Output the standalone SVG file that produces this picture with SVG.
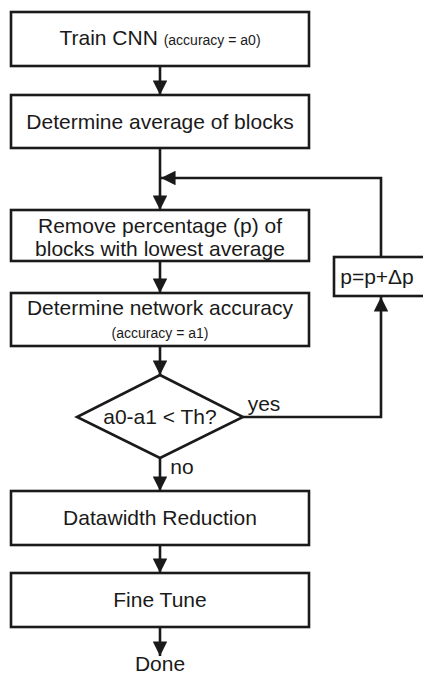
<svg xmlns="http://www.w3.org/2000/svg" width="423" height="676" viewBox="0 0 423 676">
  <style>
    .box { fill: #fff; stroke: #1a1a1a; stroke-width: 2.6; }
    .edge { fill: none; stroke: #1a1a1a; stroke-width: 2.6; }
    .t { font-family: "Liberation Sans", Arial, sans-serif; fill: #1a1a1a; text-anchor: middle; }
    .lg { font-size: 21px; }
    .sm { font-size: 14px; }
  </style>
  <defs>
    <marker id="arrowL" viewBox="0 0 10 10" refX="10" refY="5" markerWidth="5.6" markerHeight="5.6" orient="auto">
      <path d="M0,0 L10,5 L0,10 Z" fill="#1a1a1a"/>
    </marker>
  </defs>

  <!-- connectors -->
  <g id="connectors">
    <path class="edge" d="M160,66 V95" marker-end="url(#arrowL)"/>
    <path class="edge" d="M160,148 V210" marker-end="url(#arrowL)"/>
    <path class="edge" d="M381,257 V178 H161" marker-end="url(#arrowL)"/>
    <path class="edge" d="M160,261 V293" marker-end="url(#arrowL)"/>
    <path class="edge" d="M160,346 V375" marker-end="url(#arrowL)"/>
    <path class="edge" d="M243,417 H381 V297" marker-end="url(#arrowL)"/>
    <path class="edge" d="M160,458 V491" marker-end="url(#arrowL)"/>
    <path class="edge" d="M160,545 V573" marker-end="url(#arrowL)"/>
    <path class="edge" d="M160,627 V656" marker-end="url(#arrowL)"/>
    <text class="t lg" x="264" y="411">yes</text>
    <text class="t lg" x="182" y="474">no</text>
  </g>

  <g id="train">
    <rect class="box" x="11" y="12" width="298" height="54"/>
    <text class="t" x="160" y="45"><tspan class="lg">Train CNN </tspan><tspan class="sm">(accuracy = a0)</tspan></text>
  </g>

  <g id="average">
    <rect class="box" x="11" y="95" width="298" height="53"/>
    <text class="t lg" x="160" y="129">Determine average of blocks</text>
  </g>

  <g id="remove">
    <rect class="box" x="11" y="210" width="298" height="51"/>
    <text class="t lg" x="160" y="233">Remove percentage (p) of</text>
    <text class="t lg" x="160" y="256">blocks with lowest average</text>
  </g>

  <g id="accuracy">
    <rect class="box" x="11" y="293" width="298" height="53"/>
    <text class="t lg" x="160" y="315">Determine network accuracy</text>
    <text class="t sm" x="160" y="338">(accuracy = a1)</text>
  </g>

  <g id="increment">
    <rect class="box" x="334" y="257" width="95" height="39"/>
    <text class="t lg" x="377" y="284">p=p+Δp</text>
  </g>

  <g id="decision">
    <polygon class="box" points="160,375 243,417 160,458 77,417"/>
    <text class="t lg" x="160" y="424">a0-a1 &lt; Th?</text>
  </g>

  <g id="datawidth">
    <rect class="box" x="11" y="491" width="298" height="54"/>
    <text class="t lg" x="160" y="525">Datawidth Reduction</text>
  </g>

  <g id="finetune">
    <rect class="box" x="11" y="573" width="298" height="54"/>
    <text class="t lg" x="160" y="607">Fine Tune</text>
  </g>

  <g id="done">
    <text class="t lg" x="160" y="671">Done</text>
  </g>
</svg>
